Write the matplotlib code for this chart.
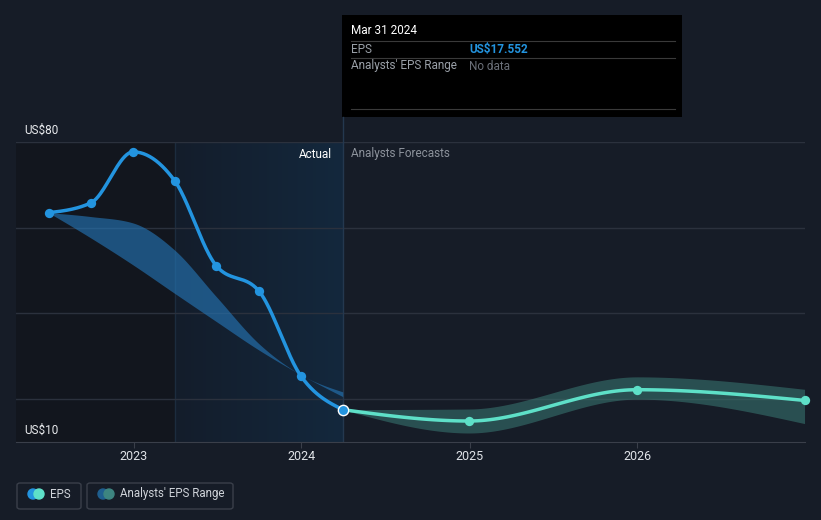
import datetime as dt

import numpy as np
import matplotlib.pyplot as plt
import matplotlib.dates as md
from matplotlib.colors import LinearSegmentedColormap
from matplotlib.patches import FancyBboxPatch, Rectangle, Ellipse

plt.rcParams['font.family'] = ['Roboto', 'DejaVu Sans']

# --- data ---
hist_dates = ['2022-06-30', '2022-09-30', '2022-12-31', '2023-03-31',
              '2023-06-30', '2023-09-30', '2023-12-31', '2024-03-31']
hist_eps = [63.5, 65.8, 77.7, 71.0, 51.1, 45.3, 25.4, 17.552]
hist_range_low = [63.5, 57.6, 51.3, 44.7, 38.1, 31.5, 25.7, 20.6]
hist_range_high = [63.5, 62.6, 61.1, 54.8, 43.9, 33.0, 25.7, 21.7]

fc_dates = ['2024-03-31', '2024-12-31', '2025-12-31', '2026-12-31']
fc_eps = [17.552, 14.9, 22.2, 19.7]
fc_low = [17.552, 12.1, 20.0, 14.3]
fc_high = [17.552, 17.7, 25.2, 22.3]

x_ticks = ['2023-01-01', '2024-01-01', '2025-01-01', '2026-01-01']
x_tick_labels = ['2023', '2024', '2025', '2026']

BG = '#161c27'
BLUE = '#2394df'
TEAL = '#5ee0c8'
GRID = '#2b313d'


def to_num(dates):
    return md.date2num([dt.datetime.strptime(d, '%Y-%m-%d') for d in dates])


def monotone(x, y, n=40):
    # d3 style monotoneX curve
    x = np.asarray(x, float)
    y = np.asarray(y, float)
    h = np.diff(x)
    s = np.diff(y) / h
    m = np.zeros(len(x))
    for i in range(1, len(x) - 1):
        p = (s[i - 1] * h[i] + s[i] * h[i - 1]) / (h[i - 1] + h[i])
        m[i] = (np.sign(s[i - 1]) + np.sign(s[i])) * min(abs(s[i - 1]), abs(s[i]), 0.5 * abs(p))
    m[0] = (3 * s[0] - m[1]) / 2 if len(x) > 2 else s[0]
    m[-1] = (3 * s[-1] - m[-2]) / 2 if len(x) > 2 else s[-1]
    xs, ys = [], []
    for i in range(len(x) - 1):
        t = np.linspace(0, 1, n, endpoint=(i == len(x) - 2))
        h00 = 2 * t**3 - 3 * t**2 + 1
        h10 = t**3 - 2 * t**2 + t
        h01 = -2 * t**3 + 3 * t**2
        h11 = t**3 - t**2
        xs.append(x[i] + t * h[i])
        ys.append(h00 * y[i] + h10 * h[i] * m[i] + h01 * y[i + 1] + h11 * h[i] * m[i + 1])
    return np.concatenate(xs), np.concatenate(ys)


hx = to_num(hist_dates)
fx = to_num(fc_dates)
x_left = md.date2num(dt.datetime(2022, 4, 20))
x_right = md.date2num(dt.datetime(2027, 1, 1))
x_split = hx[3]
x_now = hx[-1]

W, H = 821, 520
fig = plt.figure(figsize=(8.21, 5.2), dpi=100)
fig.patch.set_facecolor(BG)
ax = fig.add_axes([16 / W, 78 / H, 789 / W, 300 / H])
ax.set_facecolor(BG)
ax.set_xlim(x_left, x_right)
ax.set_ylim(10, 80)

# shaded past regions
ax.add_patch(Rectangle((x_left, 10), x_split - x_left, 70, color='#12161e', zorder=0, lw=0))
grad = np.linspace(0, 1, 256).reshape(1, -1)
cmap = LinearSegmentedColormap.from_list('g', ['#131d2b', '#14283d'])
ax.imshow(grad, cmap=cmap, extent=[x_split, x_now, 10, 80], aspect='auto', zorder=0)
ax.axvline(x_split, color='#1c2c3e', lw=1, zorder=1)

for v in [20, 40, 60, 80]:
    ax.axhline(v, color=GRID, lw=1, zorder=1)

# historic analyst band
bx, blo = monotone(hx, hist_range_low)
_, bhi = monotone(hx, hist_range_high)
ax.fill_between(bx, blo, bhi, color='#2577b8', alpha=0.62, lw=0, zorder=2)

# forecast band
fbx, fblo = monotone(fx, fc_low)
_, fbhi = monotone(fx, fc_high)
ax.fill_between(fbx, fblo, fbhi, color='#3a7a74', alpha=0.55, lw=0, zorder=2)

# EPS lines
lx, ly = monotone(hx, hist_eps)
ax.plot(lx, ly, color=BLUE, lw=2.5, zorder=4, solid_capstyle='round')
ax.scatter(hx[:-1], hist_eps[:-1], s=45, color=BLUE, zorder=5, lw=0)
flx, fly = monotone(fx, fc_eps)
ax.plot(flx, fly, color=TEAL, lw=2.5, zorder=4)
ax.scatter(fx[1:], fc_eps[1:], s=45, color=TEAL, zorder=5, lw=0, clip_on=False)
ax.scatter([x_now], [hist_eps[-1]], s=55, color=BLUE, edgecolor='white', lw=1, zorder=6)

# now line
ax.plot([x_now, x_now], [10, 80], color='#24384f', lw=1, zorder=1)
fig.add_artist(plt.Line2D([343 / W, 343 / W], [1 - 142 / H, 1 - 117 / H],
                          color='#24384f', lw=1))

for s in ['top', 'right', 'left']:
    ax.spines[s].set_visible(False)
ax.spines['bottom'].set_color('#3a3f4a')
ax.set_yticks([])
ax.set_xticks(to_num(x_ticks))
ax.set_xticklabels(x_tick_labels)
ax.tick_params(axis='x', colors='#3a3f4a', length=4, labelcolor='#e0e3e8', labelsize=9, pad=2)

ax.annotate('US$80', (0.01, 80), xycoords=ax.get_yaxis_transform(), xytext=(0, 4),
            textcoords='offset points', color='#e8eaed', fontsize=8.5, va='bottom', ha='left')
ax.annotate('US$10', (0.01, 10), xycoords=ax.get_yaxis_transform(), xytext=(0, 4),
            textcoords='offset points', color='#e8eaed', fontsize=8.5, va='bottom', ha='left')
ax.annotate('Actual', (x_now, 77.2), xytext=(-8, 0), textcoords='offset points',
            ha='right', va='center', color='#ffffff', fontsize=8.5)
ax.annotate('Analysts Forecasts', (x_now, 77.2), xytext=(6, 0), textcoords='offset points',
            ha='left', va='center', color='#8c929b', fontsize=8.5)

# tooltip
fig.add_artist(Rectangle((342 / W, 1 - 117 / H), 340 / W, 102 / H, color='black', lw=0))
for yy in [41, 58, 109]:
    fig.add_artist(plt.Line2D([351 / W, 675 / W], [1 - yy / H, 1 - yy / H], color='#3a3a3a', lw=0.8))
fig.text(351 / W, 1 - 31 / H, 'Mar 31 2024', color='white', fontsize=8.5, va='center')
fig.text(351 / W, 1 - 49.5 / H, 'EPS', color='#9aa0a8', fontsize=8.5, va='center')
fig.text(469 / W, 1 - 49.5 / H, 'US$17.552', color=BLUE, fontsize=8.5, va='center', weight='bold')
fig.text(351 / W, 1 - 66 / H, "Analysts' EPS Range", color='#9aa0a8', fontsize=8.5, va='center')
fig.text(469 / W, 1 - 66 / H, 'No data', color='#6b7079', fontsize=8.5, va='center')


# legend
def legend_box(x0, w, c1, c2, label):
    fig.add_artist(FancyBboxPatch((x0 / W, 1 - 509 / H), w / W, 26 / H,
                                  boxstyle='round,pad=0,rounding_size=0.004',
                                  fc='none', ec='#3a3f4a', lw=1))
    fig.add_artist(Ellipse(((x0 + 16) / W, 1 - 494 / H), 10 / W, 10 / H, color=c1))
    fig.add_artist(Ellipse(((x0 + 22) / W, 1 - 494 / H), 10 / W, 10 / H, color=c2))
    fig.text((x0 + 33) / W, 1 - 494 / H, label, color='#d0d4da', fontsize=8.3, va='center')


legend_box(17, 64, BLUE, TEAL, 'EPS')
legend_box(87, 146, '#1f5f8f', '#3d8580', "Analysts' EPS Range")

fig.savefig('out.png', dpi=100, facecolor=BG)
